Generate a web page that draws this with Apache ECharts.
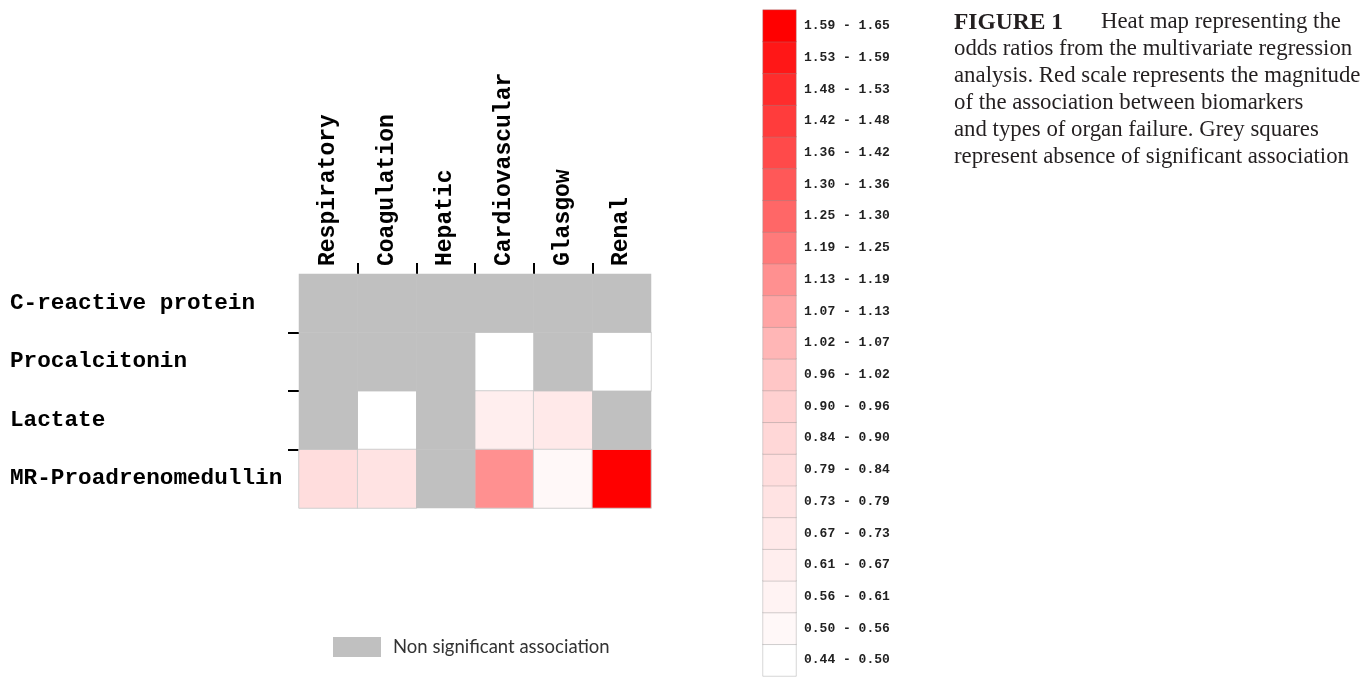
<!DOCTYPE html>
<html>
<head>
<meta charset="utf-8">
<script src="https://cdn.jsdelivr.net/npm/echarts@6/dist/echarts.min.js"></script>
<style>
html,body{margin:0;padding:0;background:#fff;}
#chart{width:1364px;height:680px;}
</style>
</head>
<body>
<div id="chart"></div>
<script>
// ---- data ----
const organFailures = ['Respiratory', 'Coagulation', 'Hepatic', 'Cardiovascular', 'Glasgow', 'Renal'];
const biomarkers = ['C-reactive protein', 'Procalcitonin', 'Lactate', 'MR-Proadrenomedullin'];
// odds ratios (null = non significant association)
const crpOR = [null, null, null, null, null, null];
const pctOR = [null, null, null, 0.47, null, 0.47];
const lactateOR = [null, 0.47, null, 0.64, 0.70, null];
const mrproadmOR = [0.82, 0.76, null, 1.16, 0.53, 1.62];
// colour scale bins (ascending)
const binEdges = [0.44, 0.50, 0.56, 0.61, 0.67, 0.73, 0.79, 0.84, 0.90, 0.96, 1.02, 1.07, 1.13, 1.19, 1.25, 1.30, 1.36, 1.42, 1.48, 1.53, 1.59, 1.65];
const binColors = ['#ffffff', '#fff8f8', '#fff3f3', '#ffeeee', '#ffe9e9', '#ffe3e3', '#ffdddd', '#ffd7d7', '#ffd0d0', '#ffc6c6', '#ffb6b6', '#ffa4a4', '#ff9090', '#ff7a7a', '#ff6767', '#ff5858', '#ff4a4a', '#ff3c3c', '#ff2c2c', '#ff1717', '#ff0000'];
const nonSigName = 'Non significant association';
const captionLines = [
  'Heat map representing the',
  'odds ratios from the multivariate regression',
  'analysis. Red scale represents the magnitude',
  'of the association between biomarkers',
  'and types of organ failure. Grey squares',
  'represent absence of significant association'
];

// ---- build ----
const orRows = [crpOR, pctOR, lactateOR, mrproadmOR];
const sigData = [], nonSigData = [];
orRows.forEach((row, r) => row.forEach((v, c) => {
  if (v === null) nonSigData.push([c, r, 0]);
  else sigData.push([c, r, v]);
}));
const binLabels = [], scaleData = [], pieces = [];
for (let i = 0; i < binColors.length; i++) {
  binLabels.push(binEdges[i].toFixed(2) + ' - ' + binEdges[i + 1].toFixed(2));
  scaleData.push([0, i, (binEdges[i] + binEdges[i + 1]) / 2]);
  const p = { gte: binEdges[i], color: binColors[i] };
  if (i < binColors.length - 1) p.lt = binEdges[i + 1]; else p.lte = binEdges[i + 1];
  pieces.push(p);
}

const monoBold = { fontFamily: 'Liberation Mono', fontWeight: 'bold', color: '#000' };
const hidden = { show: false };

const chart = echarts.init(document.getElementById('chart'));
chart.setOption({
  animation: false,
  backgroundColor: '#fff',
  title: {
    left: 949, top: 4,
    text: '{fig|FIGURE 1}' + captionLines[0] + '\n' + captionLines.slice(1).join('\n'),
    textStyle: {
      fontFamily: 'Liberation Serif', fontSize: 22.8, fontWeight: 'normal', color: '#231f20', lineHeight: 27,
      rich: {
        fig: { fontFamily: 'Liberation Serif', fontSize: 23.5, fontWeight: 'bold', color: '#231f20', width: 147, lineHeight: 27 }
      }
    }
  },
  legend: {
    left: 328, top: 632,
    itemWidth: 48, itemHeight: 20,
    selectedMode: false,
    data: [{ name: nonSigName, icon: 'rect' }],
    textStyle: { fontFamily: 'Lato', fontSize: 18.5, color: '#333', padding: [0, 0, 0, 7] }
  },
  grid: [
    { left: 299, top: 274, width: 352, height: 234 },
    { left: 763, top: 10, width: 33, height: 666 }
  ],
  xAxis: [
    {
      gridIndex: 0, type: 'category', position: 'top', data: organFailures,
      axisLine: hidden, axisTick: hidden, splitLine: hidden,
      axisLabel: Object.assign({ rotate: 90, fontSize: 23, margin: 8 }, monoBold)
    },
    {
      gridIndex: 0, type: 'value', position: 'top', min: 0, max: organFailures.length,
      axisLine: hidden, axisLabel: hidden, splitLine: hidden,
      axisTick: { show: true, length: 11, customValues: [1, 2, 3, 4, 5], lineStyle: { color: '#000', width: 2 } }
    },
    {
      gridIndex: 1, type: 'category', data: [''],
      axisLine: hidden, axisTick: hidden, axisLabel: hidden, splitLine: hidden
    }
  ],
  yAxis: [
    {
      gridIndex: 0, type: 'category', inverse: true, data: biomarkers,
      axisLine: hidden, axisTick: hidden, splitLine: hidden,
      axisLabel: Object.assign({ fontSize: 22.7, align: 'left', margin: 289 }, monoBold)
    },
    {
      gridIndex: 0, type: 'value', position: 'left', min: 0, max: biomarkers.length,
      axisLine: hidden, axisLabel: hidden, splitLine: hidden,
      axisTick: { show: true, length: 11, customValues: [1, 2, 3], lineStyle: { color: '#000', width: 2 } }
    },
    {
      gridIndex: 1, type: 'category', position: 'right', data: binLabels,
      axisLine: hidden, axisTick: hidden, splitLine: hidden,
      axisLabel: Object.assign({ fontSize: 13, margin: 8 }, monoBold, { color: '#222' })
    }
  ],
  visualMap: {
    type: 'piecewise', show: false, seriesIndex: [0, 2], dimension: 2, pieces: pieces
  },
  series: [
    {
      type: 'heatmap', name: 'Odds ratio', xAxisIndex: 0, yAxisIndex: 0, data: sigData,
      itemStyle: { borderColor: '#cfcfcf', borderWidth: 1 },
      emphasis: { disabled: true }, label: hidden
    },
    {
      type: 'heatmap', name: nonSigName, xAxisIndex: 0, yAxisIndex: 0, data: nonSigData,
      itemStyle: { color: '#c0c0c0', borderWidth: 0 },
      emphasis: { disabled: true }, label: hidden
    },
    {
      type: 'heatmap', name: 'Scale', xAxisIndex: 2, yAxisIndex: 2, data: scaleData,
      itemStyle: { borderColor: 'rgba(140,140,140,0.35)', borderWidth: 1 },
      emphasis: { disabled: true }, label: hidden
    }
  ]
});
</script>
</body>
</html>
